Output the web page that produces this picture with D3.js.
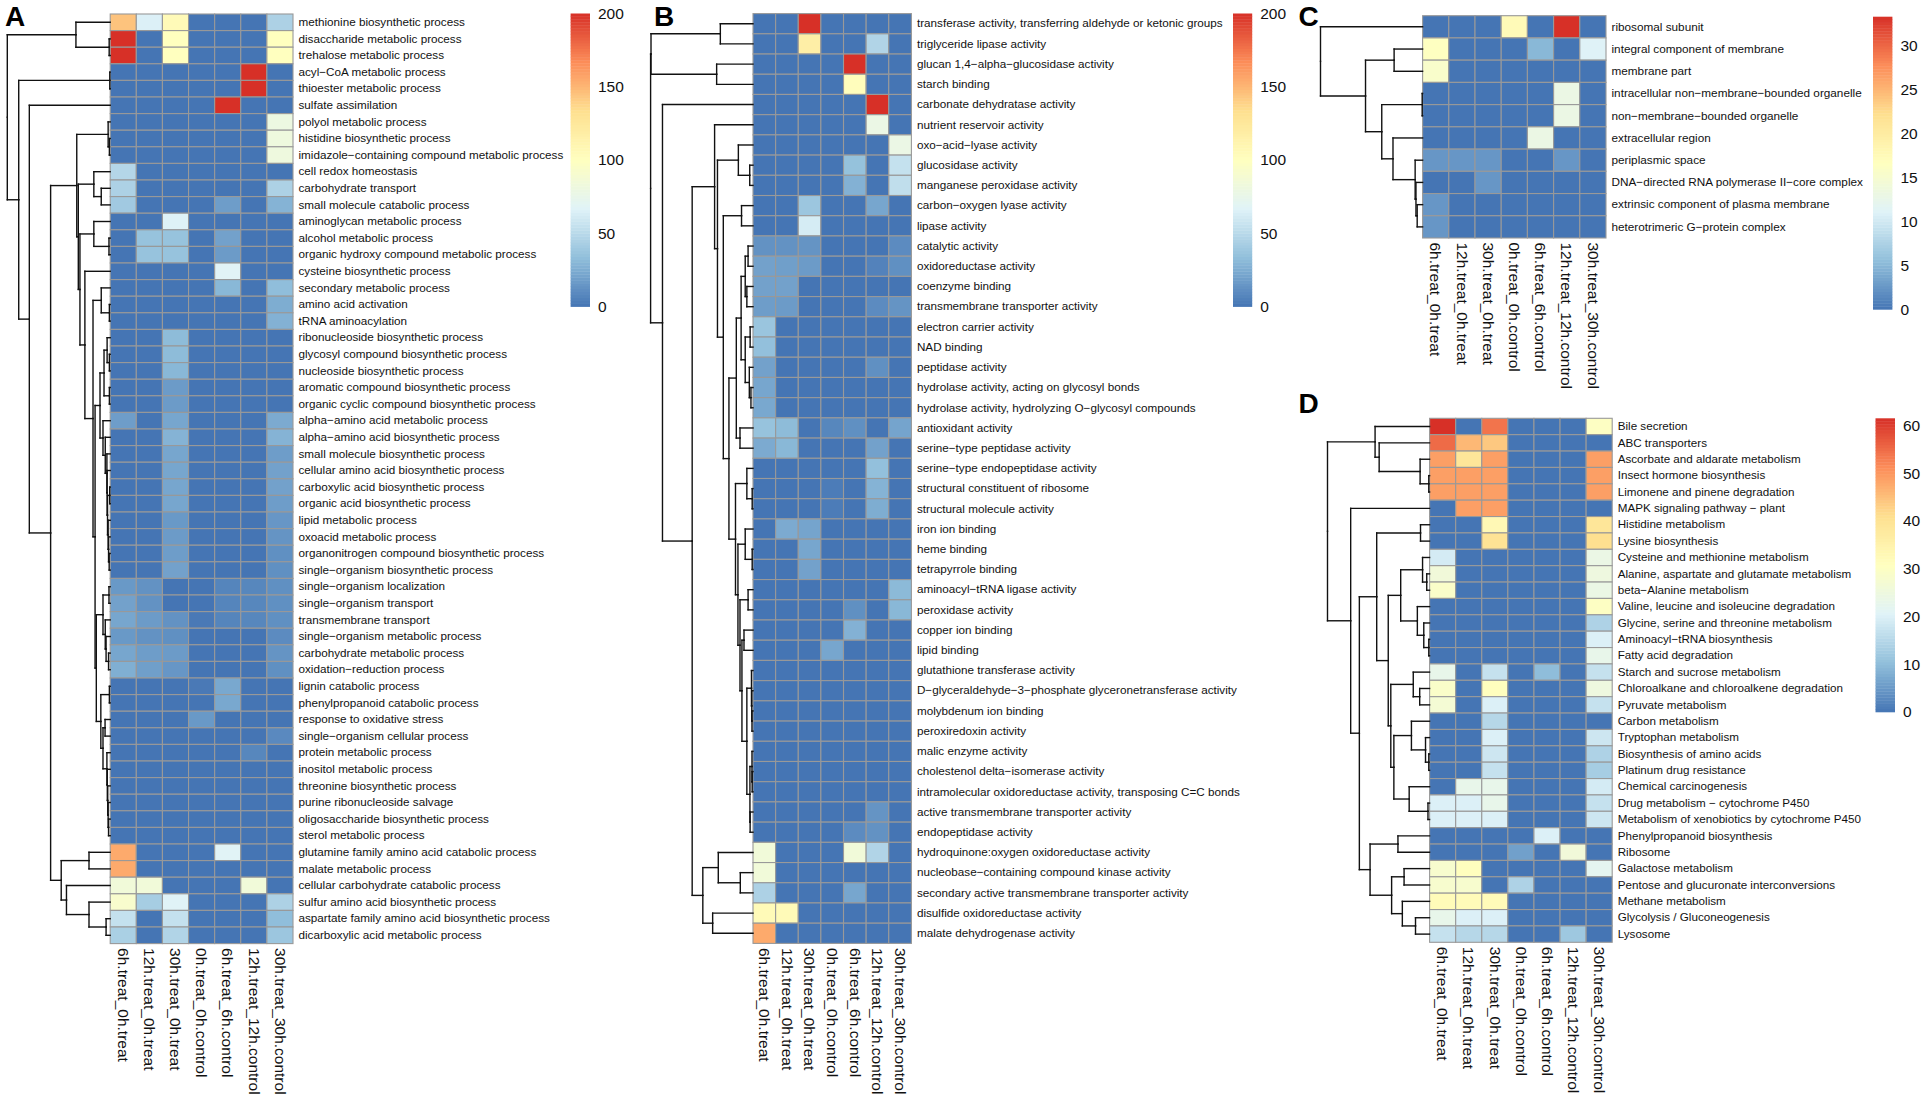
<!DOCTYPE html>
<html><head><meta charset="utf-8">
<script src="https://cdnjs.cloudflare.com/ajax/libs/d3/7.8.5/d3.min.js"></script>
<style>html,body{margin:0;padding:0;background:#fff}svg{display:block}text{font-family:"Liberation Sans",Arial,sans-serif;fill:#111}</style>
</head><body><svg id="c" width="1928" height="1102"></svg>
<script>
const columns=["6h.treat_0h.treat","12h.treat_0h.treat","30h.treat_0h.treat","0h.treat_0h.control","6h.treat_6h.control","12h.treat_12h.control","30h.treat_30h.control"];
const o=null;

const rowsA=["methionine biosynthetic process","disaccharide metabolic process","trehalose metabolic process","acyl-CoA metabolic process","thioester metabolic process","sulfate assimilation","polyol metabolic process","histidine biosynthetic process","imidazole-containing compound metabolic process","cell redox homeostasis","carbohydrate transport","small molecule catabolic process","aminoglycan metabolic process","alcohol metabolic process","organic hydroxy compound metabolic process","cysteine biosynthetic process","secondary metabolic process","amino acid activation","tRNA aminoacylation","ribonucleoside biosynthetic process","glycosyl compound biosynthetic process","nucleoside biosynthetic process","aromatic compound biosynthetic process","organic cyclic compound biosynthetic process","alpha-amino acid metabolic process","alpha-amino acid biosynthetic process","small molecule biosynthetic process","cellular amino acid biosynthetic process","carboxylic acid biosynthetic process","organic acid biosynthetic process","lipid metabolic process","oxoacid metabolic process","organonitrogen compound biosynthetic process","single-organism biosynthetic process","single-organism localization","single-organism transport","transmembrane transport","single-organism metabolic process","carbohydrate metabolic process","oxidation-reduction process","lignin catabolic process","phenylpropanoid catabolic process","response to oxidative stress","single-organism cellular process","protein metabolic process","inositol metabolic process","threonine biosynthetic process","purine ribonucleoside salvage","oligosaccharide biosynthetic process","sterol metabolic process","glutamine family amino acid catabolic process","malate metabolic process","cellular carbohydrate catabolic process","sulfur amino acid biosynthetic process","aspartate family amino acid biosynthetic process","dicarboxylic acid metabolic process"];
const valuesA=[[145,65,105,0,0,0,45],[200,0,100,0,0,0,100],[200,0,100,0,0,0,100],[0,0,0,0,0,200,0],[0,0,0,0,0,200,0],[0,0,0,0,200,0,0],[0,0,0,0,0,0,80],[0,0,0,0,0,0,82],[0,0,0,0,0,0,82],[48,0,0,0,0,0,0],[45,0,0,0,0,0,45],[40,0,0,0,18,0,28],[0,0,66,0,0,0,0],[0,36,36,0,20,0,0],[0,36,36,0,17,0,0],[0,0,0,0,68,0,0],[0,0,0,0,30,0,33],[0,0,0,0,0,0,25],[0,0,0,0,0,0,27],[0,0,32,0,0,0,0],[0,0,32,0,0,0,0],[0,0,30,0,0,0,0],[0,0,17,0,0,0,0],[0,0,17,0,0,0,0],[18,0,22,0,0,0,24],[0,0,28,0,0,0,28],[0,0,22,0,0,0,18],[0,0,22,0,0,0,20],[0,0,22,0,0,0,20],[0,0,22,0,0,0,18],[0,0,16,0,0,0,15],[0,0,17,0,0,0,14],[0,0,18,0,0,0,12],[0,0,20,0,0,0,12],[16,13,0,0,7,8,12],[20,13,0,0,7,8,12],[22,17,13,2,7,8,12],[16,13,12,0,0,0,10],[22,18,17,0,0,0,14],[26,19,15,0,0,0,12],[0,0,0,2,23,0,0],[0,0,0,0,23,0,0],[0,0,0,16,0,0,0],[0,0,0,0,0,0,9],[0,0,0,0,0,8,0],[0,0,0,0,0,0,0],[0,0,0,0,0,0,0],[0,0,0,0,0,0,0],[0,0,0,0,0,0,0],[0,0,0,0,0,0,0],[155,0,0,0,68,0,0],[155,0,0,0,0,0,0],[85,85,0,0,0,85,0],[92,42,67,0,0,0,45],[55,0,55,0,0,0,33],[44,0,47,0,0,0,38]];
const treeA=[100,[33.3,o,[1,o,o]],[88.9,[0.4,o,o],[78.6,o,[57.9,[32.5,[2,o,[0.8,o,o]],[31,[15.9,o,[8.7,o,o]],[29.4,[15.9,o,[1.2,o,o]],[24.6,o,[16.7,[8.7,o,[0.8,o,o]],[14.7,[9.9,[6,[3,o,[0.8,o,o]],[0.8,o,o]],[7,o,[4.8,o,[3.2,o,[3,o,[2.6,[0.5,o,o],[2,o,[1.6,o,[1,o,o]]]]]]]]],[13.5,[7,[1.2,o,o],[4.8,o,[4,o,[1.6,o,o]]]],[9.1,[0.8,o,o],[7,[5,o,o],[3.2,o,[2.8,o,[2.4,o,[2,o,[1.6,o,o]]]]]]]]]]]]]],[47.6,[20.6,o,o],[42.5,o,[20.6,o,[4,o,o]]]]]]]];

const rowsB=["transferase activity, transferring aldehyde or ketonic groups","triglyceride lipase activity","glucan 1,4-alpha-glucosidase activity","starch binding","carbonate dehydratase activity","nutrient reservoir activity","oxo-acid-lyase activity","glucosidase activity","manganese peroxidase activity","carbon-oxygen lyase activity","lipase activity","catalytic activity","oxidoreductase activity","coenzyme binding","transmembrane transporter activity","electron carrier activity","NAD binding","peptidase activity","hydrolase activity, acting on glycosyl bonds","hydrolase activity, hydrolyzing O-glycosyl compounds","antioxidant activity","serine-type peptidase activity","serine-type endopeptidase activity","structural constituent of ribosome","structural molecule activity","iron ion binding","heme binding","tetrapyrrole binding","aminoacyl-tRNA ligase activity","peroxidase activity","copper ion binding","lipid binding","glutathione transferase activity","D-glyceraldehyde-3-phosphate glyceronetransferase activity","molybdenum ion binding","peroxiredoxin activity","malic enzyme activity","cholestenol delta-isomerase activity","intramolecular oxidoreductase activity, transposing C=C bonds","active transmembrane transporter activity","endopeptidase activity","hydroquinone:oxygen oxidoreductase activity","nucleobase-containing compound kinase activity","secondary active transmembrane transporter activity","disulfide oxidoreductase activity","malate dehydrogenase activity"];
const valuesB=[[0,0,200,0,0,0,0],[0,0,118,0,0,47,0],[0,0,0,0,200,0,0],[0,0,0,0,102,0,0],[0,0,0,0,0,200,0],[0,0,0,0,0,78,0],[0,0,0,0,0,0,78],[0,0,0,0,35,0,55],[0,0,0,0,27,0,53],[0,0,38,0,0,22,0],[0,0,62,0,0,0,0],[13,13,14,0,0,0,10],[20,19,17,0,0,6,12],[20,20,0,0,0,0,0],[18,17,0,0,0,10,14],[37,0,0,0,0,0,0],[34,0,0,0,0,0,0],[20,0,0,0,0,12,0],[22,0,0,0,0,0,0],[23,0,0,0,0,0,0],[36,32,0,8,12,0,21],[24,30,0,0,0,20,0],[0,0,0,0,0,34,0],[0,0,0,3,0,28,0],[0,0,0,3,0,25,0],[0,24,21,0,0,0,0],[0,0,22,0,0,0,0],[0,0,20,0,0,0,0],[0,0,0,0,0,0,31],[0,0,0,0,12,0,30],[0,0,0,0,27,0,0],[0,0,0,22,0,0,0],[0,0,0,0,0,0,0],[0,0,0,0,0,0,0],[0,0,0,0,0,0,0],[0,0,0,0,0,0,0],[0,0,0,0,0,0,0],[0,0,0,0,0,0,0],[0,0,0,0,0,0,0],[0,0,0,0,0,14,0],[0,0,0,0,10,13,0],[85,0,0,0,85,47,0],[85,0,0,0,0,0,0],[45,0,0,0,22,0,0],[105,105,0,0,0,0,0],[155,0,0,0,0,0,0]];
const treeB=[100,[99.6,[31.9,o,o],[35.5,o,o]],[88.4,o,[59.4,[37.5,o,[34.7,[14.3,o,[3.2,o,o]],[29,[11.2,o,o],[23.5,[16.3,[11.6,[7.6,[4.8,o,o],[6,o,o]],[7.6,[2.8,o,o],[3.6,o,[2,o,o]]]],[12.7,o,o]],[17.1,[6,o,[0.8,o,o]],[14.7,[7.6,o,[0.8,o,o]],[12.7,[4.8,o,o],[10.8,[8.8,o,o],[6,[1.5,o,[1.2,o,[1,o,o]]],[3,[1,o,[0.8,o,o]],[2.8,o,o]]]]]]]]]]],[49,[33.9,o,[12.4,o,o]],[39.4,o,o]]]]];

const rowsC=["ribosomal subunit","integral component of membrane","membrane part","intracellular non-membrane-bounded organelle","non-membrane-bounded organelle","extracellular region","periplasmic space","DNA-directed RNA polymerase II-core complex","extrinsic component of plasma membrane","heterotrimeric G-protein complex"];
const valuesC=[[0,0,0,17.5,0,33.3,0],[16.5,0,0,0,5,0,11],[15.5,0,0,0,0,0,0],[0,0,0,0,0,13,0],[0,0,0,0,0,13,0],[0,0,0,0,13,0,0],[2.5,2.5,2.5,0,0,2.5,0],[0,0,2.5,0,0,0,0],[2.5,0,0,0,0,0,0],[2.5,0,0,0,0,0,0]];
const treeC=[100,o,[55.9,[27.9,o,o],[40,[0.4,o,o],[29,o,[7.3,o,[6.5,o,[5.3,o,o]]]]]]];

const rowsD=["Bile secretion","ABC transporters","Ascorbate and aldarate metabolism","Insect hormone biosynthesis","Limonene and pinene degradation","MAPK signaling pathway - plant","Histidine metabolism","Lysine biosynthesis","Cysteine and methionine metabolism","Alanine, aspartate and glutamate metabolism","beta-Alanine metabolism","Valine, leucine and isoleucine degradation","Glycine, serine and threonine metabolism","Aminoacyl-tRNA biosynthesis","Fatty acid degradation","Starch and sucrose metabolism","Chloroalkane and chloroalkene degradation","Pyruvate metabolism","Carbon metabolism","Tryptophan metabolism","Biosynthesis of amino acids","Platinum drug resistance","Chemical carcinogenesis","Drug metabolism - cytochrome P450","Metabolism of xenobiotics by cytochrome P450","Phenylpropanoid biosynthesis","Ribosome","Galactose metabolism","Pentose and glucuronate interconversions","Methane metabolism","Glycolysis / Gluconeogenesis","Lysosome"];
const valuesD=[[61.5,0,54,0,0,0,30],[55,46,44,0,0,0,0],[49,39,49,0,0,0,49],[49,49,49,0,0,0,49],[49,49,49,0,0,0,49],[0,49,49,0,0,0,0],[0,0,33,0,0,0,39],[0,0,40,0,0,0,41],[19,0,0,0,0,0,24],[26,0,0,0,0,0,25],[29,0,0,0,0,0,24],[0,0,0,0,0,0,30],[0,0,0,0,0,0,14],[0,0,0,0,0,0,20],[0,0,0,0,0,0,23],[23,0,17,0,10,0,17],[29,0,31,0,0,0,25],[27,0,20,0,0,0,17],[0,0,15,0,0,0,0],[0,0,20,0,0,0,18],[0,0,18,0,0,0,14],[0,0,17,0,0,0,13],[0,23,23,0,0,0,19],[20,20,23,0,0,0,17],[20,20,20,0,0,0,18],[0,0,0,0,20,0,0],[0,0,0,6,0,26,0],[28,31,0,0,0,0,22],[28,28,0,14,0,0,0],[32,32,32,0,0,0,0],[23,20,20,0,0,0,0],[17,15,15,0,0,12,0]];
const treeD=[100,[53.4,o,[49.4,o,[9.3,o,[0.8,o,o]]]],[77.3,o,[68.8,[51.8,[8.9,o,o],[40.5,[28.3,[6.9,o,[2.8,o,o]],[12,o,[5.7,o,[0.8,o,o]]]],[38,[16,o,[9.7,o,o]],[35,[17.8,o,[4,o,[0.8,o,o]]],[20,o,[1.6,o,o]]]]]],[58.3,[31,o,o],[37.2,[25,o,o],[26.7,o,[13.8,o,o]]]]]]];

const ticksA=[0,50,100,150,200], ticksC=[0,5,10,15,20,25,30], ticksD=[0,10,20,30,40,50,60];
const palette=["#4575B4","#91BFDB","#E0F3F8","#FFFFBF","#FEE090","#FC8D59","#D73027"];

const panels=[
 {letter:"A",lx:5,ly:25.6,rows:rowsA,values:valuesA,tree:treeA,max:200,ticks:ticksA,x0:110.2,x1:293,y0:14,y1:943.6,root:7.3,bx:570.6,bw:19.4,by0:13.5,by1:306.5,fs:11.7},
 {letter:"B",lx:654,ly:25.6,rows:rowsB,values:valuesB,tree:treeB,max:200,ticks:ticksA,x0:753,x1:911.4,y0:13.6,y1:943.4,root:650.6,bx:1233,bw:19.2,by0:13.5,by1:306.5,fs:11.7},
 {letter:"C",lx:1298.6,ly:25.6,rows:rowsC,values:valuesC,tree:treeC,max:33.3,ticks:ticksC,x0:1422.6,x1:1606,y0:15.7,y1:238,root:1320.5,bx:1873,bw:19.4,by0:16.7,by1:309.3,fs:11.75},
 {letter:"D",lx:1298.6,ly:412.7,rows:rowsD,values:valuesD,tree:treeD,max:61.5,ticks:ticksD,x0:1429.6,x1:1612.2,y0:418.3,y1:942.3,root:1327.5,bx:1875.5,bw:19.5,by0:418.3,by1:711.9,fs:11.65}
];

const svg=d3.select("#c");
const minus=s=>s.replace(/-/g,"\u2212");

panels.forEach(p=>{
  const g=svg.append("g");
  const color=d3.scaleLinear().domain(d3.range(7).map(i=>p.max*i/6)).range(palette).interpolate(d3.interpolateRgb);
  const xS=d3.scaleBand().domain(columns).range([p.x0,p.x1]);
  const yS=d3.scaleBand().domain(p.rows).range([p.y0,p.y1]);
  const hS=d3.scaleLinear().domain([0,100]).range([p.x0,p.root]);

  g.append("text").text(p.letter).attr("x",p.lx).attr("y",p.ly)
   .attr("font-size",28).attr("font-weight","bold").style("fill","#000");

  // cells
  p.rows.forEach((r,i)=>{
    g.append("g").selectAll("rect").data(p.values[i]).join("rect")
     .attr("x",(d,j)=>xS(columns[j])).attr("y",yS(r))
     .attr("width",xS.bandwidth()).attr("height",yS.bandwidth())
     .attr("fill",d=>color(d)).attr("stroke","#999").attr("stroke-width",1.1);
  });

  // row labels
  const ra=g.append("g").attr("transform",`translate(${p.x1},0)`)
    .call(d3.axisRight(yS).tickSize(0).tickPadding(5.5).tickFormat(minus));
  ra.select(".domain").remove();
  ra.selectAll("text").attr("font-size",p.fs).style("font-family",'"Liberation Sans",Arial,sans-serif');

  // column labels
  const ca=g.append("g").attr("transform",`translate(0,${p.y1})`)
    .call(d3.axisBottom(xS).tickSize(0).tickPadding(0));
  ca.select(".domain").remove();
  ca.selectAll("text").attr("font-size",15.5).attr("text-anchor","start")
    .attr("dy",0).attr("y",0).attr("x",0)
    .attr("transform","translate(-5.3,4.5) rotate(90)")
    .style("font-family",'"Liberation Sans",Arial,sans-serif');

  // dendrogram
  const root=d3.hierarchy(p.tree,d=>Array.isArray(d)?d.slice(1):null);
  const leaves=root.leaves();
  leaves.forEach((l,i)=>{l.py=yS(p.rows[i])+yS.bandwidth()/2;l.ph=0;});
  root.eachAfter(n=>{
    if(n.children){n.ph=n.data[0];n.py=(n.children[0].py+n.children[1].py)/2;}
  });
  const segs=[];
  root.each(n=>{
    if(!n.children)return;
    const xp=hS(n.ph);
    n.children.forEach(c=>{
      segs.push([[xp,n.py],[xp,c.py]]);
      segs.push([[xp,c.py],[hS(c.ph),c.py]]);
    });
  });
  const line=d3.line();
  g.append("g").selectAll("path").data(segs).join("path")
   .attr("d",line).attr("fill","none").attr("stroke","#111")
   .attr("stroke-width",1.4).attr("stroke-linecap","square");

  // colour bar
  const bS=d3.scaleLinear().domain([0,p.max]).range([p.by1,p.by0]);
  const bins=d3.range(100).map(i=>i/100*p.max);
  g.append("g").selectAll("rect").data(bins).join("rect")
   .attr("x",p.bx).attr("width",p.bw)
   .attr("y",d=>bS(d+p.max/100)).attr("height",d=>bS(d)-bS(d+p.max/100)+0.4)
   .attr("fill",d=>color(d+p.max/200));
  const ba=g.append("g").attr("transform",`translate(${p.bx+p.bw},0)`)
    .call(d3.axisRight(bS).tickValues(p.ticks).tickSize(0).tickPadding(8));
  ba.select(".domain").remove();
  ba.selectAll("text").attr("font-size",15.5).style("font-family",'"Liberation Sans",Arial,sans-serif');
});
</script></body></html>
